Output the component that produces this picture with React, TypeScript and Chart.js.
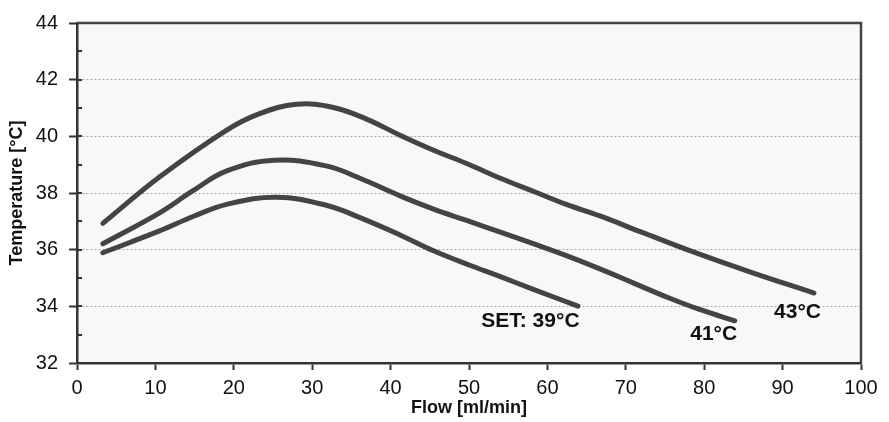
import React, { useEffect, useRef } from "react";
import { Chart, registerables } from "chart.js";

Chart.register(...registerables);

// Flow [ml/min] (x) and Temperature [°C] (y) for each set temperature
const set39Flow = [3.3, 10.6, 14.8, 19.1, 25.5, 31.9, 36.1, 41.2, 45.4, 50.1, 54.0, 58.2, 63.9];
const set39Temp = [35.89, 36.67, 37.17, 37.6, 37.85, 37.56, 37.13, 36.52, 35.97, 35.45, 35.05, 34.6, 34.01];

const set41Flow = [3.3, 10.6, 14.8, 19.1, 25.2, 31.9, 36.1, 41.2, 45.4, 49.7, 54.0, 58.2, 62.5, 66.7, 71.0, 75.2, 79.5, 83.9];
const set41Temp = [36.21, 37.31, 38.08, 38.78, 39.16, 38.95, 38.52, 37.9, 37.44, 37.03, 36.62, 36.21, 35.78, 35.32, 34.82, 34.33, 33.88, 33.49];

const set43Flow = [3.3, 10.6, 19.1, 23.3, 28.0, 32.7, 37.0, 41.2, 45.4, 49.7, 54.0, 58.2, 62.5, 66.7, 72.0, 78.6, 86.0, 94.0];
const set43Temp = [36.93, 38.58, 40.22, 40.8, 41.13, 41.02, 40.6, 40.04, 39.52, 39.04, 38.52, 38.06, 37.59, 37.19, 36.62, 35.92, 35.2, 34.47];

const curveLabels = ["SET: 39°C", "41°C", "43°C"];
const labelFlow = [64.1, 84.2, 94.9];
const labelTemp = [33.47, 33.0, 33.78];

const xTitle = "Flow [ml/min]";
const yTitle = "Temperature [°C]";
const xMin = 0, xMax = 100, xStep = 10;
const yMin = 32, yMax = 44, yStep = 2;

const FONT = "'Liberation Sans', Arial, Helvetica, sans-serif";
const LINE = "#444444";

const toPts = (xs: number[], ys: number[]) => xs.map((x, i) => ({ x, y: ys[i] }));

const framePlugin = {
  id: "frame",
  beforeDraw(chart: any) {
    const { ctx, chartArea: a } = chart;
    ctx.save();
    ctx.fillStyle = "#f8f8f8";
    ctx.fillRect(a.left, a.top, a.right - a.left, a.bottom - a.top);
    ctx.restore();
  },
  afterDraw(chart: any) {
    const { ctx, chartArea: a, scales } = chart;
    const ys = scales.y;
    const xs = scales.x;
    ctx.save();
    ctx.strokeStyle = LINE;
    ctx.lineWidth = 2.5;
    ctx.beginPath();
    ctx.moveTo(a.left, a.top);
    ctx.lineTo(a.right, a.top);
    ctx.lineTo(a.right, a.bottom);
    ctx.stroke();
    ctx.strokeStyle = "#333";
    ctx.lineWidth = 2;
    for (let v = yMin + 1; v < yMax; v += 1) {
      const py = Math.round(ys.getPixelForValue(v));
      ctx.beginPath();
      ctx.moveTo(a.left, py);
      ctx.lineTo(a.left + 5, py);
      ctx.stroke();
    }
    ctx.fillStyle = "#111";
    ctx.font = `bold 21px ${FONT}`;
    ctx.textAlign = "right";
    ctx.textBaseline = "middle";
    curveLabels.forEach((t, i) => {
      ctx.fillText(t, xs.getPixelForValue(labelFlow[i]), ys.getPixelForValue(labelTemp[i]));
    });
    ctx.restore();
  },
};

export default function App() {
  const ref = useRef<HTMLCanvasElement>(null);
  useEffect(() => {
    if (!ref.current) return;
    const ds = (data: any) => ({
      data,
      borderColor: LINE,
      borderWidth: 5,
      borderCapStyle: "round",
      borderJoinStyle: "round",
      pointRadius: 0,
      tension: 0.4,
      fill: false,
    });
    const chart = new Chart(ref.current, {
      type: "line",
      data: {
        datasets: [
          { label: curveLabels[0], ...ds(toPts(set39Flow, set39Temp)) },
          { label: curveLabels[1], ...ds(toPts(set41Flow, set41Temp)) },
          { label: curveLabels[2], ...ds(toPts(set43Flow, set43Temp)) },
        ] as any,
      },
      options: {
        animation: false,
        responsive: false,
        layout: { padding: { top: 17, right: 28, bottom: 0, left: 0 } },
        plugins: { legend: { display: false }, tooltip: { enabled: false } },
        scales: {
          x: {
            type: "linear",
            min: xMin,
            max: xMax,
            afterFit: (s: any) => { s.height = 59; },
            ticks: {
              stepSize: xStep,
              color: "#111",
              font: { family: FONT, size: 20 },
              padding: 6,
              maxRotation: 0,
            },
            grid: {
              drawOnChartArea: false,
              tickLength: 7,
              tickColor: "#333",
              tickWidth: 2,
            },
            border: { color: "#333", width: 2.5 },
            title: {
              display: true,
              text: xTitle,
              color: "#111",
              font: { family: FONT, size: 18, weight: "bold" },
              padding: { top: 0, bottom: 3 },
            },
          },
          y: {
            type: "linear",
            min: yMin,
            max: yMax,
            afterFit: (s: any) => { s.width = 77; },
            ticks: {
              stepSize: yStep,
              color: "#111",
              font: { family: FONT, size: 20 },
              padding: 11,
            },
            grid: {
              color: (c: any) => (c.tick && (c.tick.value === yMin || c.tick.value === yMax) ? "rgba(0,0,0,0)" : "#a8a8a8"),
              lineWidth: 1,
              tickLength: 8,
              tickColor: "#333",
              tickWidth: 2,
            },
            border: { color: "#333", width: 2.5, dash: [2, 2] },
            title: {
              display: true,
              text: yTitle,
              color: "#111",
              font: { family: FONT, size: 18, weight: "bold" },
              padding: { top: 6, bottom: 0 },
            },
          },
        },
      } as any,
      plugins: [framePlugin],
    });
    return () => chart.destroy();
  }, []);
  return (
    <div style={{ position: "absolute", left: 0, top: 0, width: 889, height: 422, background: "#fff" }}>
      <canvas ref={ref} width={889} height={422} style={{ display: "block" }} />
    </div>
  );
}
